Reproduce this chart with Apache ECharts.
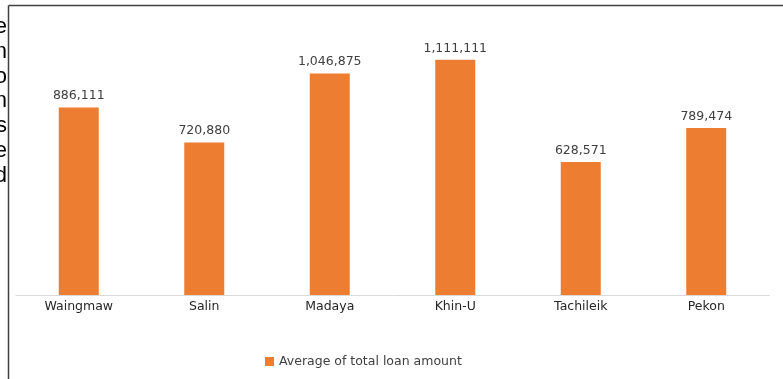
<!DOCTYPE html>
<html>
<head>
<meta charset="utf-8">
<script src="https://cdn.jsdelivr.net/npm/echarts@6/dist/echarts.min.js"></script>
<style>
  html, body { margin: 0; padding: 0; background: #ffffff; }
  #chart { width: 783px; height: 379px; }
</style>
</head>
<body>
<div id="chart"></div>
<script>
// Townships and their average total loan amount
const townships = ['Waingmaw', 'Salin', 'Madaya', 'Khin-U', 'Tachileik', 'Pekon'];
const avgLoan = [886111, 720880, 1046875, 1111111, 628571, 789474];
const seriesName = 'Average of total loan amount';
// Line endings of the surrounding paragraph text at the left margin
const marginLetters = ['e', 'n', 'o', 'n', 's', 'e', 'd'];

const chart = echarts.init(document.getElementById('chart'), null, { renderer: 'canvas' });

const fmt = v => v.toLocaleString('en-US');
const FONT = '"DejaVu Sans", sans-serif';

const marginText = marginLetters.map((ch, i) => ({
  type: 'text',
  right: 776,
  top: 16 + i * 24.8,
  style: { text: ch, font: '22px "Liberation Sans", sans-serif', fill: '#000000' }
}));

chart.setOption({
  animation: false,
  backgroundColor: '#ffffff',
  textStyle: { fontFamily: FONT },
  grid: { left: 16, right: 14, top: 41, bottom: 84, containLabel: false },
  legend: {
    bottom: 11,
    left: 265,
    padding: 0,
    itemWidth: 9,
    itemHeight: 9,
    icon: 'rect',
    itemGap: 6,
    textStyle: { color: '#404040', fontSize: 12.5, fontFamily: FONT },
    data: [seriesName]
  },
  xAxis: {
    type: 'category',
    data: townships,
    axisLine: { lineStyle: { color: '#d9d9d9', width: 1 } },
    axisTick: { show: false },
    axisLabel: { color: '#262626', fontSize: 12.5, margin: 5, fontFamily: FONT }
  },
  yAxis: {
    type: 'value',
    min: 0,
    max: 1200000,
    show: false,
    splitLine: { show: false }
  },
  series: [{
    name: seriesName,
    type: 'bar',
    data: avgLoan,
    barWidth: 40,
    itemStyle: { color: '#ed7d31' },
    label: {
      show: true,
      position: 'top',
      distance: 5,
      color: '#404040',
      fontSize: 12.5,
      fontFamily: FONT,
      formatter: p => fmt(p.value)
    }
  }],
  graphic: [
    // frame of the surrounding text box
    { type: 'line', shape: { x1: 8.5, y1: 5.5, x2: 783, y2: 5.5 }, style: { stroke: '#404040', lineWidth: 1.5 } },
    { type: 'line', shape: { x1: 8.5, y1: 5.5, x2: 8.5, y2: 379 }, style: { stroke: '#404040', lineWidth: 1.5 } }
  ].concat(marginText)
});
</script>
</body>
</html>
